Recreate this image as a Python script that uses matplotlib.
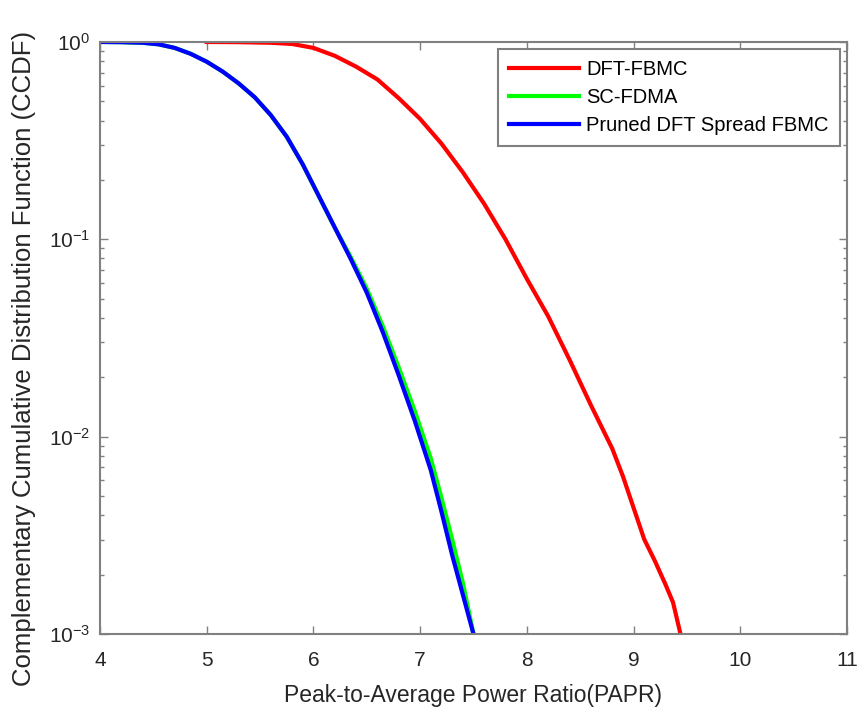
import numpy as np
import matplotlib
matplotlib.use('Agg')
import matplotlib.pyplot as plt
from matplotlib.ticker import LogLocator, NullFormatter

plt.rcParams['font.family'] = ['Liberation Sans', 'DejaVu Sans']
plt.rcParams['mathtext.fontset'] = 'custom'
plt.rcParams['mathtext.rm'] = 'Liberation Sans'

# PAPR (dB) and log10(CCDF)
papr_fbmc = [5.0, 5.3, 5.6, 5.8, 6.0, 6.2, 6.4, 6.6, 6.8, 7.0, 7.2, 7.4,
             7.6, 7.8, 8.0, 8.2, 8.4, 8.6, 8.8, 8.9, 9.0, 9.1, 9.2, 9.3,
             9.37, 9.44]
logccdf_fbmc = [0.0, -0.001, -0.004, -0.01, -0.03, -0.07, -0.125, -0.19,
                -0.285, -0.39, -0.515, -0.66, -0.82, -1.0, -1.2, -1.39,
                -1.61, -1.84, -2.06, -2.2, -2.36, -2.52, -2.63, -2.75,
                -2.84, -3.0]

papr_scfdma = [4.0, 4.2, 4.4, 4.55, 4.7, 4.85, 5.0, 5.15, 5.3, 5.45, 5.6,
               5.75, 5.9, 6.05, 6.2, 6.35, 6.5, 6.65, 6.8, 6.95, 7.1, 7.2,
               7.3, 7.4, 7.5]
logccdf_scfdma = [0.0, -0.001, -0.004, -0.012, -0.03, -0.06, -0.10, -0.15,
                  -0.21, -0.28, -0.37, -0.48, -0.62, -0.78, -0.94, -1.09,
                  -1.25, -1.44, -1.65, -1.87, -2.11, -2.31, -2.52, -2.74,
                  -3.0]

papr_pruned = [4.0, 4.2, 4.4, 4.55, 4.7, 4.85, 5.0, 5.15, 5.3, 5.45, 5.6,
               5.75, 5.9, 6.05, 6.2, 6.35, 6.5, 6.65, 6.8, 6.95, 7.1, 7.2,
               7.3, 7.4, 7.5]
logccdf_pruned = [0.0, -0.001, -0.004, -0.012, -0.03, -0.06, -0.10, -0.15,
                  -0.21, -0.28, -0.37, -0.48, -0.62, -0.78, -0.94, -1.10,
                  -1.27, -1.47, -1.69, -1.92, -2.17, -2.38, -2.6, -2.8,
                  -3.0]

labels = ['DFT-FBMC', 'SC-FDMA', 'Pruned DFT Spread FBMC']

fig = plt.figure(figsize=(8.64, 7.09), dpi=100)
ax = fig.add_axes([0.1157, 0.1058, 0.8646, 0.835])

ax.semilogy(papr_fbmc, 10 ** np.array(logccdf_fbmc), color='#ff0000', lw=3, label=labels[0])
ax.semilogy(papr_scfdma, 10 ** np.array(logccdf_scfdma), color='#00ff00', lw=3, label=labels[1])
ax.semilogy(papr_pruned, 10 ** np.array(logccdf_pruned), color='#0000ff', lw=3, label=labels[2])

ax.set_xlim(4, 11)
ax.set_ylim(1e-3, 1)
ax.set_xticks(range(4, 12))
ax.yaxis.set_major_locator(LogLocator(base=10, numticks=10))
ax.yaxis.set_minor_locator(LogLocator(base=10, subs=np.arange(2, 10), numticks=20))
ax.yaxis.set_minor_formatter(NullFormatter())

gray = '#808080'
for s in ax.spines.values():
    s.set_color(gray)
    s.set_linewidth(1.5)
ax.tick_params(which='both', direction='in', top=True, right=True, color=gray,
               labelcolor='#262626', labelsize=15)
ax.tick_params(which='major', length=6, width=1)
ax.tick_params(which='minor', length=3, width=1)
ax.tick_params(axis='x', pad=12)
ax.tick_params(axis='y', pad=7)

ax.set_xlabel('Peak-to-Average Power Ratio(PAPR)', fontsize=16.5, color='#262626', labelpad=10)
ax.set_ylabel('Complementary Cumulative Distribution Function (CCDF)', fontsize=18.5,
              color='#262626')
ax.yaxis.set_label_coords(-0.086, 0.465)

leg = ax.legend(loc='upper right', fontsize=14.5, handlelength=3.5, handletextpad=0.35,
                fancybox=False, framealpha=1, borderaxespad=0.35, labelspacing=0.45,
                borderpad=0.55)
leg.get_frame().set_edgecolor(gray)
leg.get_frame().set_linewidth(1.5)

fig.savefig('out.png', dpi=100)
